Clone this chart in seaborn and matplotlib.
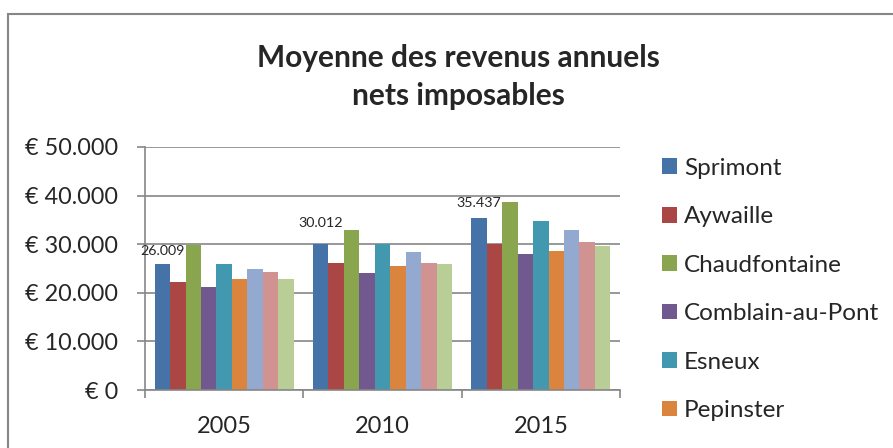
import matplotlib
matplotlib.use("Agg")
import matplotlib.pyplot as plt
import seaborn as sns
import pandas as pd
from matplotlib.patches import Rectangle

# ---- data ----
years = ["2005", "2010", "2015"]
communes = ["Sprimont", "Aywaille", "Chaudfontaine", "Comblain-au-Pont",
            "Esneux", "Pepinster", "Theux", "Trooz", "Wallonie"]
sprimont = [26009, 30012, 35437]
aywaille = [22300, 26100, 30000]
chaudfontaine = [29900, 33000, 38600]
comblain = [21250, 24150, 28050]
esneux = [25850, 29980, 34770]
pepinster = [22750, 25600, 28650]
theux = [24950, 28400, 32850]
trooz = [24300, 26150, 30500]
wallonie = [22750, 25850, 29650]
data_labels = ["26.009", "30.012", "35.437"]
ytick_values = [0, 10000, 20000, 30000, 40000, 50000]
ytick_labels = ["€ 0", "€ 10.000", "€ 20.000", "€ 30.000", "€ 40.000", "€ 50.000"]
title = "Moyenne des revenus annuels\nnets imposables"

series = [sprimont, aywaille, chaudfontaine, comblain, esneux,
          pepinster, theux, trooz, wallonie]
rows = []
for name, vals in zip(communes, series):
    for y, v in zip(years, vals):
        rows.append({"year": y, "commune": name, "value": v})
df = pd.DataFrame(rows)

colors = ["#4572A7", "#AA4643", "#89A54E", "#71588F", "#4198AF",
          "#DB843D", "#93A9CF", "#D19392", "#B9CD96"]
label_offsets_px = [12.6, 20.7, 15.0]
n_legend_visible = 6  # the reference legend is cut off after 6 entries

sns.set_style("white")
plt.rcParams["font.family"] = ["Lato", "DejaVu Sans"]

W, H = 893, 448
fig = plt.figure(figsize=(W / 100, H / 100), dpi=100)
fig.patch.set_facecolor("white")

# outer chart frame (clipped at right/bottom like reference)
fig.patches.append(Rectangle((8 / W, -0.1), 1.2, (H - 14) / H + 0.1,
                             transform=fig.transFigure, fill=False,
                             edgecolor="#868686", linewidth=1.5))

ax = fig.add_axes([145 / W, (H - 390) / H, (620 - 145) / W, (390 - 147) / H])
sns.barplot(data=df, x="year", y="value", hue="commune", order=years,
            hue_order=communes, palette=colors, width=0.877, gap=0,
            linewidth=0, saturation=1, ax=ax, legend=True, errorbar=None)

handles, labels = ax.get_legend_handles_labels()
ax.get_legend().remove()

ax.set_ylim(0, 50000)
ax.set_xlim(-0.5, 2.5)
ax.set_yticks(ytick_values)
ax.set_yticklabels(ytick_labels, fontsize=16.8)
ax.yaxis.grid(True, color="#868686", linewidth=1.2)
ax.set_axisbelow(True)
ax.set_xlabel("")
ax.set_ylabel("")

ax.set_xticks([-0.5, 0.5, 1.5, 2.5])
ax.set_xticklabels([])
ax.set_xticks([0, 1, 2], minor=True)
ax.set_xticklabels(years, minor=True, fontsize=17)
ax.tick_params(axis="x", which="major", length=5.8, width=1.2, color="#868686", direction="out", bottom=True)
ax.tick_params(axis="x", which="minor", length=0, pad=19)
ax.tick_params(axis="y", length=5.8, width=1.2, color="#868686", direction="out", left=True, pad=13.7)

for s in ["top", "right"]:
    ax.spines[s].set_visible(False)
for s in ["left", "bottom"]:
    ax.spines[s].set_color("#868686")
    ax.spines[s].set_linewidth(1.2)

# data labels on Sprimont bars
for bar, txt, off in zip(ax.containers[0], data_labels, label_offsets_px):
    ax.annotate(txt, (bar.get_x() + bar.get_width() / 2, bar.get_height()),
                xytext=(0, off), textcoords="offset pixels",
                ha="center", va="center", fontsize=10.3)

fig.text(458 / W, 1 - 77 / H, title, ha="center", va="center",
         fontsize=21.5, fontweight="bold", linespacing=1.45)

fig.legend(handles[:n_legend_visible], labels[:n_legend_visible], loc="upper left",
           bbox_to_anchor=(652 / W, 1 - 148 / H), frameon=False,
           fontsize=17.5, handlelength=0.62, handleheight=0.62,
           handletextpad=0.3, labelspacing=1.13, borderaxespad=0)

fig.savefig("out.png", dpi=100)
